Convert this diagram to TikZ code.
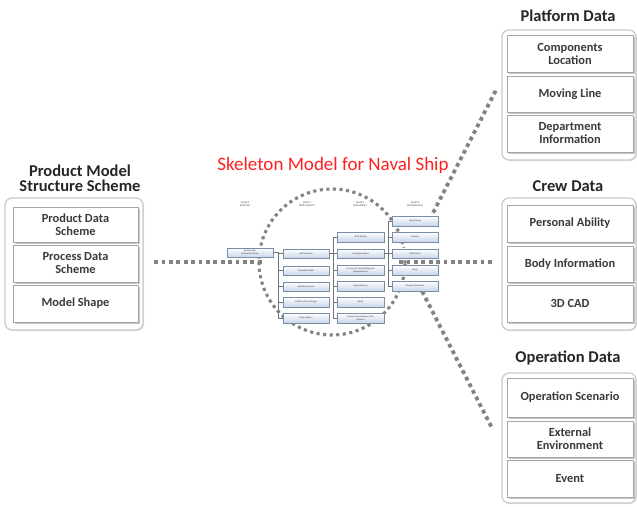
\documentclass[tikz,border=0pt]{standalone}
\usepackage{fontspec}
\setmainfont{Carlito}
\usetikzlibrary{shadows,decorations.markings}
\definecolor{dotgray}{HTML}{828282}
\definecolor{boxline}{HTML}{A6A6A6}
\definecolor{panelline}{HTML}{CACACA}
\definecolor{itemtext}{HTML}{3A3A3A}
\definecolor{treeline}{HTML}{7C8CA4}
\definecolor{treefill}{HTML}{C9D6EA}
\definecolor{skred}{HTML}{FF2020}
\tikzset{
  panel/.style={draw=panelline, line width=1.2pt, rounded corners=7pt, fill=white,
    drop shadow={shadow xshift=1pt, shadow yshift=-1pt, opacity=0.25}},
  item/.style={draw=boxline, line width=0.6pt, fill=white, text=itemtext,
    font=\fontsize{12.4}{13}\selectfont\bfseries, align=center, inner sep=0pt,
    drop shadow={shadow xshift=1.6pt, shadow yshift=-1.6pt, opacity=0.45}},
  paneltitle/.style={font=\fontsize{16.5}{17}\selectfont\bfseries, text=black!85, align=center},
  % square dots placed along a path
  squaredots/.style 2 args={decorate, decoration={markings,
      mark=between positions 0 and 1 step #2 with
      {\fill[dotgray] (-#1/2,-#1/2) rectangle (#1/2,#1/2);}}},
  dotline/.style={squaredots={3.8pt}{7.4pt}},
  dotcircle/.style={squaredots={3.1pt}{6.6pt}},
  treebox/.style={draw=treeline, line width=0.5pt, top color=white, bottom color=treefill,
    minimum height=9.5pt, inner sep=0pt, align=center,
    font=\fontsize{2.4}{2.8}\selectfont, text=black!80,
    drop shadow={shadow xshift=0.8pt, shadow yshift=-0.8pt, opacity=0.5}},
  treelink/.style={draw=black!55, line width=0.6pt},
  levellabel/.style={font=\fontsize{3}{3.4}\selectfont, text=black!70, align=center},
}
\begin{document}
\begin{tikzpicture}[x=1pt, y=-1pt]
\useasboundingbox (0,0) rectangle (637,506);

% ---------- left panel: product model structure scheme ----------
\node[paneltitle] (ptitle) at (80,178) {Product Model\\[-2pt]Structure Scheme};
\draw[panel] (5,198) rectangle (143,330);
\node[item, minimum width=125pt, minimum height=35pt] (s1) at (75.5,224.5) {Product Data\\Scheme};
\node[item, minimum width=125pt, minimum height=37pt] (s2) at (75.5,263.5) {Process Data\\Scheme};
\node[item, minimum width=125pt, minimum height=37pt] (s3) at (75.5,303.5) {Model Shape};
\coordinate (leftend) at (156,262);

% ---------- right panels ----------
\node[paneltitle] (pdtitle) at (568,16) {Platform Data};
\draw[panel] (502,30) rectangle (636,160);
\node[item, minimum width=126pt, minimum height=37pt] (pd1) at (570,53.5) {Components\\Location};
\node[item, minimum width=126pt, minimum height=36pt] (pd2) at (570,94) {Moving Line};
\node[item, minimum width=126pt, minimum height=37pt] (pd3) at (570,133.5) {Department\\Information};

\node[paneltitle] (cdtitle) at (568,186) {Crew Data};
\draw[panel] (502,198) rectangle (636,330);
\node[item, minimum width=126pt, minimum height=37pt] (cd1) at (570,223.5) {Personal Ability};
\node[item, minimum width=126pt, minimum height=36pt] (cd2) at (570,264) {Body Information};
\node[item, minimum width=126pt, minimum height=37pt] (cd3) at (570,303.5) {3D CAD};

\node[paneltitle] (odtitle) at (568,358) {Operation Data};
\draw[panel] (502,373) rectangle (636,503);
\node[item, minimum width=126pt, minimum height=39pt] (od1) at (570,397.5) {Operation Scenario};
\node[item, minimum width=126pt, minimum height=36pt] (od2) at (570,439) {External\\Environment};
\node[item, minimum width=126pt, minimum height=37pt] (od3) at (570,478.5) {Event};

% ---------- skeleton model title ----------
\node[font=\fontsize{19}{20}\selectfont, text=skred] (sktitle) at (333,165) {Skeleton Model for Naval Ship};

% ---------- dotted guide lines and circle (behind the tree) ----------
\coordinate (circc) at (332,262);
\path[dotcircle] (circc) circle[radius=73pt];
\coordinate (lefttree) at (261,262);
\coordinate (righttree) at (401,262);
\coordinate (rightend) at (497,262);
\coordinate (upstart) at (434,211);
\coordinate (upend) at (495,92);
\coordinate (lostart) at (423,293);
\coordinate (loend) at (493,430);
\path[dotline] (leftend) -- (lefttree);
\path[dotline] (righttree) -- (rightend);
\path[dotline] (upstart) -- (upend);
\path[dotline] (lostart) -- (loend);

% ---------- tree of the skeleton model ----------
\node[levellabel] (lv0) at (245,204) {Level 0\\(System)};
\node[levellabel] (lv1) at (307,204) {Level 1\\(Sub-System)};
\node[levellabel] (lv2) at (360,204) {Level 2\\(Assembly)};
\node[levellabel] (lv3) at (415,204) {Level 3\\(Component)};

\node[treebox, minimum width=46pt] (t0) at (250,252.5) {Surface Ship\\Product Structure};

\node[treebox, minimum width=46pt] (t1a) at (306,253.5) {Hull Structure};
\node[treebox, minimum width=46pt] (t1b) at (306,270.5) {Propulsion Plant};
\node[treebox, minimum width=46pt] (t1c) at (306,286.5) {Auxiliary Systems};
\node[treebox, minimum width=46pt] (t1d) at (306,302) {Outfit and Furnishings};
\node[treebox, minimum width=46pt] (t1e) at (306,318) {Major Spaces};

\node[treebox, minimum width=47pt] (t2a) at (360.5,237) {Shell Plating};
\node[treebox, minimum width=47pt] (t2b) at (360.5,253.5) {Hull Appendages};
\node[treebox, minimum width=47pt] (t2c) at (360.5,270) {Framing for Shell Plating and\\Superstructure};
\node[treebox, minimum width=47pt] (t2d) at (360.5,286) {Superstructure};
\node[treebox, minimum width=47pt] (t2e) at (360.5,302) {Decks};
\node[treebox, minimum width=47pt] (t2f) at (360.5,318) {Construction Between Two\\Systems};

\node[treebox, minimum width=46pt] (t3a) at (415,221) {Skeg Fairing};
\node[treebox, minimum width=46pt] (t3b) at (415,237) {Transom};
\node[treebox, minimum width=46pt] (t3c) at (415,253.5) {Shaft Struts};
\node[treebox, minimum width=46pt] (t3d) at (415,270) {Rings};
\node[treebox, minimum width=46pt] (t3e) at (415,286) {Propeller Protector};

\foreach \n in {t1a,t1b,t1c,t1d,t1e}
  \draw[treelink] (t0.east) -- ++(5,0) |- (\n.west);
\foreach \n in {t2a,t2b,t2c,t2d,t2e,t2f}
  \draw[treelink] (t1a.east) -- ++(4,0) |- (\n.west);
\foreach \n in {t3a,t3b,t3c,t3d,t3e}
  \draw[treelink] (t2b.east) -- ++(4,0) |- (\n.west);
\end{tikzpicture}
\end{document}
